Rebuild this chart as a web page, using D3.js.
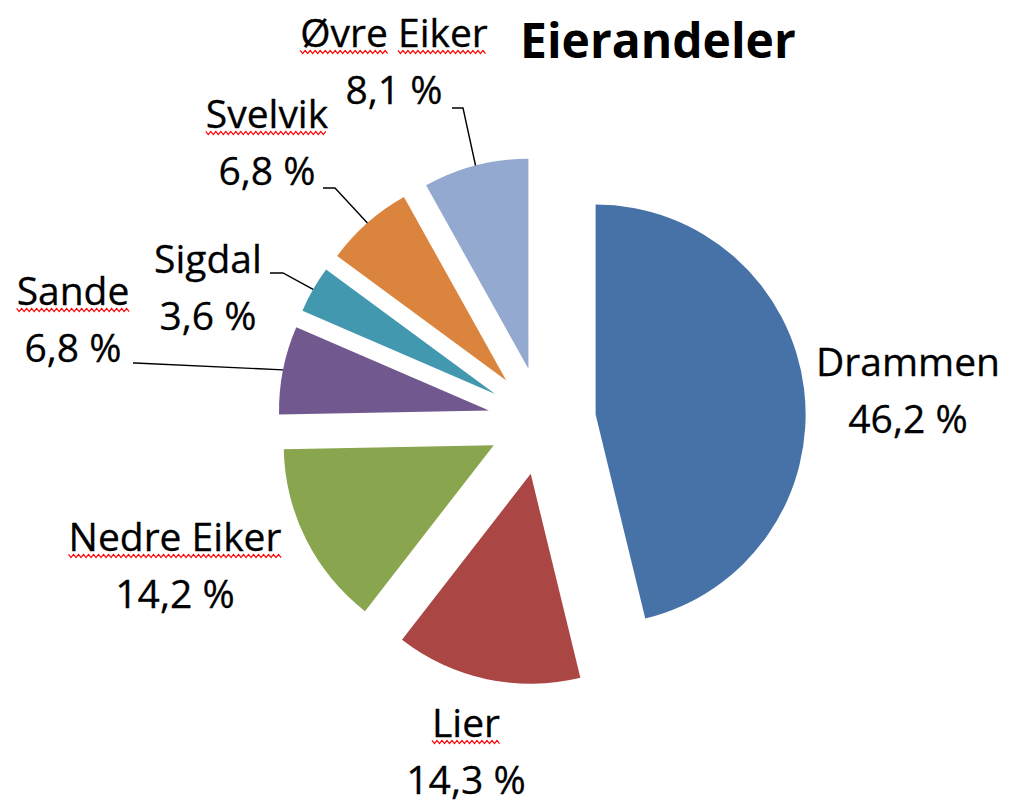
<!DOCTYPE html>
<html>
<head>
<meta charset="utf-8">
<script src="https://cdn.jsdelivr.net/npm/d3@7"></script>
<style>
  body { margin: 0; background: #fff; }
  text { font-family: "Open Sans", "Noto Sans", sans-serif; fill: #000; }
</style>
</head>
<body>
<script>
//chart data
var names = ["Drammen", "Lier", "Nedre Eiker", "Sande", "Sigdal", "Svelvik", "Øvre Eiker"];
var shares = [46.2, 14.3, 14.2, 6.8, 3.6, 6.8, 8.1];
var colors = ["#4672a8", "#aa4643", "#89a54e", "#71588f", "#4198af", "#db843d", "#93a9cf"];
var title = "Eierandeler";
//words with the red spell-check underline
var flagged = ["Øvre", "Eiker", "Svelvik", "Sande", "Nedre Eiker", "Lier"];

//layout (label centres and leader lines, placed by hand as in the original)
var labelPos = {
  "Drammen": [908, 376],
  "Lier": [466, 737],
  "Nedre Eiker": [175, 551],
  "Sande": [73, 305],
  "Sigdal": [208, 273],
  "Svelvik": [267, 128],
  "Øvre Eiker": [394, 47]
};
var leaders = [
  {name: "Sande", x0: 133, x1: 135, y: 363},
  {name: "Sigdal", x0: 270, x1: 283, y: 273},
  {name: "Svelvik", x0: 323, x1: 335, y: 188},
  {name: "Øvre Eiker", x0: 452, x1: 463, y: 108}
];

var width = 1009, height = 806;
var cx = 542, cy = 421, radius = 210, explode = 54;

var svg = d3.select("body").append("svg")
    .attr("width", width)
    .attr("height", height);

var data = names.map(function(n, i){ return {name: n, value: shares[i], color: colors[i]}; });

var pie = d3.pie()
    .sort(null)
    .value(function(d){ return d.value; });

var arc = d3.arc()
    .innerRadius(0)
    .outerRadius(radius);

var arcs = pie(data);

function offset(d, dist){
  var mid = (d.startAngle + d.endAngle) / 2;
  return [cx + dist * Math.sin(mid), cy - dist * Math.cos(mid)];
}

//exploded slices
svg.selectAll(".slice")
    .data(arcs)
    .enter()
    .append("path")
    .attr("class", "slice")
    .attr("transform", function(d){ return "translate(" + offset(d, explode) + ")"; })
    .attr("d", arc)
    .style("fill", function(d){ return d.data.color; });

//leader lines end at the middle of each slice's outer edge
var byName = {};
arcs.forEach(function(a){ byName[a.data.name] = a; });

svg.selectAll(".leader")
    .data(leaders)
    .enter()
    .append("path")
    .attr("class", "leader")
    .attr("fill", "none")
    .attr("stroke", "#000")
    .attr("stroke-width", 1.4)
    .attr("d", function(l){
      var p = offset(byName[l.name], explode + radius);
      return "M" + l.x0 + "," + l.y + "L" + l.x1 + "," + l.y + "L" + p[0] + "," + p[1];
    });

//labels
var fmt = function(v){ return d3.format(".1f")(v).replace(".", ",") + " %"; };

var labels = svg.selectAll(".label")
    .data(arcs)
    .enter()
    .append("g")
    .attr("class", "label");

labels.append("text")
    .attr("class", "lname")
    .attr("x", function(d){ return labelPos[d.data.name][0]; })
    .attr("y", function(d){ return labelPos[d.data.name][1]; })
    .attr("text-anchor", "middle")
    .style("font-size", "39px")
    .style("stroke", "#000")
    .style("stroke-width", 0.3)
    .text(function(d){ return d.data.name; });

labels.append("text")
    .attr("x", function(d){ return labelPos[d.data.name][0]; })
    .attr("y", function(d){ return labelPos[d.data.name][1] + 57; })
    .attr("text-anchor", "middle")
    .style("font-size", "39px")
    .style("stroke", "#000")
    .style("stroke-width", 0.3)
    .text(function(d){ return fmt(d.data.value); });

//red squiggles under the flagged words
function squiggle(x0, x1, y){
  var pts = [], up = true;
  for (var x = x0; x <= x1; x += 2.5){
    pts.push([x, up ? y - 1.6 : y + 1.6]);
    up = !up;
  }
  return d3.line()(pts);
}

svg.selectAll(".lname").each(function(d){
  var node = this, txt = d.data.name;
  var y = labelPos[txt][1] + 5;
  flagged.forEach(function(w){
    var idx = txt.indexOf(w);
    if (idx < 0) return;
    if (w !== txt && flagged.indexOf(txt) >= 0) return;
    var x0 = node.getStartPositionOfChar(idx).x;
    var len = node.getSubStringLength(idx, w.length);
    svg.append("path")
        .attr("d", squiggle(x0, x0 + len, y))
        .attr("fill", "none")
        .attr("stroke", "#ff0000")
        .attr("stroke-width", 1.2);
  });
});

//title
svg.append("text")
    .attr("x", 520)
    .attr("y", 58)
    .style("font-size", "48px")
    .style("font-weight", "bold")
    .text(title);
</script>
</body>
</html>
